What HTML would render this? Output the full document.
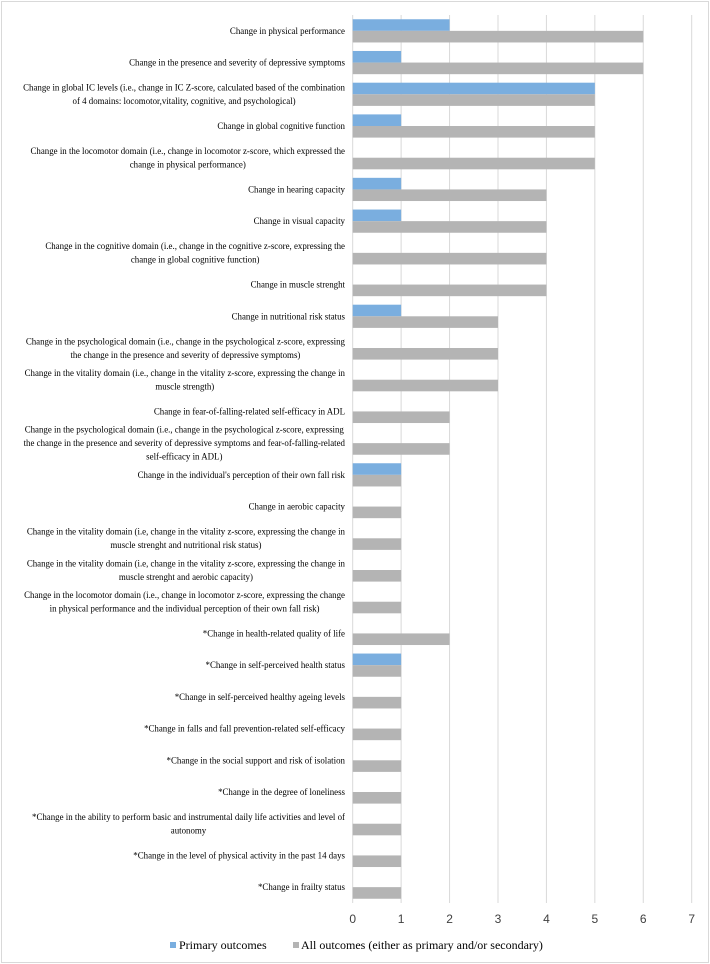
<!DOCTYPE html>
<html><head><meta charset="utf-8"><style>
html,body{margin:0;padding:0;background:#fff;}
svg{display:block;}
</style></head><body>
<svg id="chart" width="710" height="964" xmlns="http://www.w3.org/2000/svg">
<rect x="1.5" y="1.5" width="707" height="961" fill="#fff" stroke="#d9d9d9" stroke-width="1"/>
<g id="grid"></g><g id="bars"></g><g id="labels"></g><g id="ticks"></g>
<g>
<rect x="170" y="942" width="6" height="6" fill="#7aaedf"/>
<text x="179" y="949" font-family="Liberation Serif, serif" font-size="12" fill="#000">Primary outcomes</text>
<rect x="293" y="942" width="6" height="6" fill="#b4b4b4"/>
<text x="301" y="949" font-family="Liberation Serif, serif" font-size="12" fill="#000">All outcomes (either as primary and/or secondary)</text>
</g>
</svg>
<script>
const categories = [
["Change in physical performance"],
["Change in the presence and severity of depressive symptoms"],
["Change in global IC levels (i.e., change in IC Z-score, calculated based of the combination","of 4 domains: locomotor,vitality, cognitive, and psychological)"],
["Change in global cognitive function"],
["Change in the locomotor domain (i.e., change in locomotor z-score, which expressed the","change in physical performance)"],
["Change in hearing capacity"],
["Change in visual capacity"],
["Change in the cognitive domain (i.e., change in the cognitive z-score, expressing the","change in global cognitive function)"],
["Change in muscle strenght"],
["Change in nutritional risk status"],
["Change in the psychological domain (i.e., change in the psychological z-score, expressing","the change in the presence and severity of depressive symptoms)"],
["Change in the vitality domain (i.e., change in the vitality z-score, expressing the change in","muscle strength)"],
["Change in fear-of-falling-related self-efficacy in ADL"],
["Change in the psychological domain (i.e., change in the psychological z-score, expressing","the change in the presence and severity of depressive symptoms and fear-of-falling-related","self-efficacy in ADL)"],
["Change in the individual's perception of their own fall risk"],
["Change in aerobic capacity"],
["Change in the vitality domain (i.e, change in the vitality z-score, expressing the change in","muscle strenght and nutritional risk status)"],
["Change in the vitality domain (i.e, change in the vitality z-score, expressing the change in","muscle strenght and aerobic capacity)"],
["Change in the locomotor domain (i.e., change in locomotor z-score, expressing the change","in physical performance and the individual perception of their own fall risk)"],
["*Change in health-related quality of life"],
["*Change in self-perceived health status"],
["*Change in self-perceived healthy ageing levels"],
["*Change in falls and fall prevention-related self-efficacy"],
["*Change in the social support and risk of isolation"],
["*Change in the degree of loneliness"],
["*Change in the ability to perform basic and instrumental daily life activities and level of","autonomy"],
["*Change in the level of physical activity in the past 14 days"],
["*Change in frailty status"]
];
const primaryValues = [2,1,5,1,0,1,1,0,0,1,0,0,0,0,1,0,0,0,0,0,1,0,0,0,0,0,0,0];
const allValues = [6,6,5,5,5,4,4,4,4,3,3,3,2,2,1,1,1,1,1,2,1,1,1,1,1,1,1,1];
const tickLabels = ["0","1","2","3","4","5","6","7"];

const NS="http://www.w3.org/2000/svg";
const X0=352.7, X1=691.7, XMAX=7, TOP=15, BOT=903;
const xs=v=>X0+(v/XMAX)*(X1-X0);
const band=(BOT-TOP)/categories.length;
const yc=i=>TOP+band*(i+0.5);
function mk(tag,parent,attrs){const e=document.createElementNS(NS,tag);for(const k in attrs)e.setAttribute(k,attrs[k]);parent.appendChild(e);return e;}
const grid=document.getElementById('grid'),bars=document.getElementById('bars'),labels=document.getElementById('labels'),ticks=document.getElementById('ticks');
tickLabels.forEach((t,k)=>{
  const v=+t;
  const g=mk('line',grid,{x1:xs(v),x2:xs(v),y1:TOP,y2:BOT,stroke:'#d9d9d9','stroke-width':1});
  
  
  const tx=mk('text',ticks,{x:xs(v),y:923,'text-anchor':'middle','font-family':'Liberation Sans, sans-serif','font-size':12,fill:'#404040'});
  tx.textContent=t;
  
  
});
const BH=11.6;
categories.forEach((lines,i)=>{
  const c=yc(i);
  const b1=mk('rect',bars,{x:xs(0),y:c-BH,width:xs(primaryValues[i])-xs(0),height:BH,fill:'#7aaedf'});
  
  
  const b2=mk('rect',bars,{x:xs(0),y:c,width:xs(allValues[i])-xs(0),height:BH,fill:'#b4b4b4'});
  
  
  const lh=13.5;
  const t=mk('text',labels,{'font-family':'Liberation Serif, serif','font-size':8.9,fill:'#000'});
  
  
  const start=c-(lines.length-1)*lh/2+3.1;
  const spans=lines.map((ln,j)=>{const s=mk('tspan',t,{y:start+j*lh});s.textContent=ln;return s;});
  let maxW=0;
  spans.forEach(s=>{let w=s.getComputedTextLength();if(w>333){s.setAttribute('textLength',333);s.setAttribute('lengthAdjust','spacingAndGlyphs');w=333;}maxW=Math.max(maxW,w);});
  const cx=345-maxW/2;
  spans.forEach(s=>{s.setAttribute('x',cx);s.setAttribute('text-anchor','middle');});
});
</script>
</body></html>
